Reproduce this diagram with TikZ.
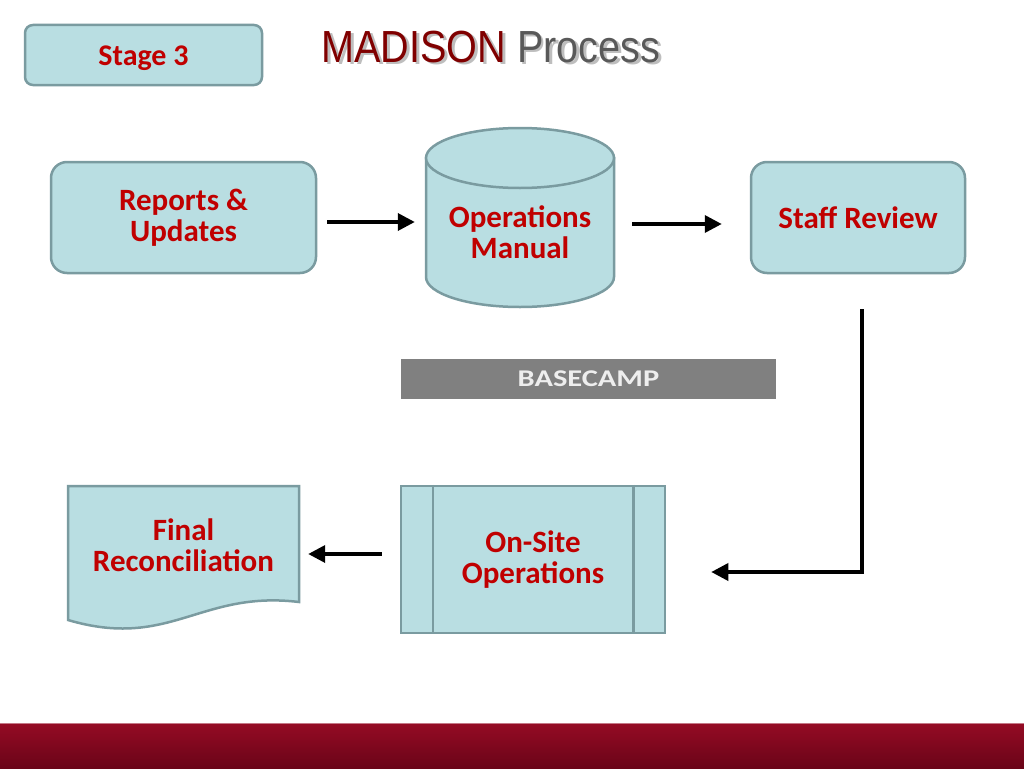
\documentclass[tikz,border=0pt]{standalone}
\usepackage{fontspec}
\usepackage{graphicx}
\setmainfont{Carlito}
\newfontfamily\titlefont{Liberation Sans}
\usetikzlibrary{positioning,arrows.meta}
\definecolor{boxfill}{RGB}{185,222,226}
\definecolor{boxline}{RGB}{122,155,160}
\definecolor{labelred}{RGB}{192,0,0}
\definecolor{titlered}{RGB}{128,0,0}
\definecolor{titlegray}{RGB}{89,89,89}
\definecolor{shadowgray}{RGB}{190,190,190}
\definecolor{basegray}{RGB}{128,128,128}
\definecolor{basetext}{RGB}{238,238,238}
\definecolor{barred}{RGB}{148,11,36}
\definecolor{bardark}{RGB}{106,4,24}
\definecolor{barline}{RGB}{196,120,134}
\newcommand{\titletext}[1]{\scalebox{0.88}[1]{#1}}

\begin{document}
\begin{tikzpicture}[x=1pt,y=-1pt,
    flowbox/.style={draw=boxline,fill=boxfill,line width=2.5pt,align=center,text=labelred,font=\fontsize{31}{30.5}\selectfont\bfseries},
    flowtext/.style={align=center,text=labelred,inner sep=0pt,font=\fontsize{31}{30.5}\selectfont\bfseries},
    arrow/.style={line width=3.5pt,-{Triangle[length=17pt,width=17pt]}}]
    \useasboundingbox[fill=white] (0,0) rectangle (1024,768);
        % header
        \node[flowbox,rounded corners=8pt,minimum width=237pt,minimum height=60pt,font=\fontsize{30}{30}\selectfont\bfseries] (stage) at (143.5,55) {\raisebox{-10pt}[0pt][0pt]{Stage 3}};
        \node[anchor=west,font=\titlefont\fontsize{45}{50}\selectfont] (title) at (318,48) {\makebox[0pt][l]{\hspace{2.5pt}\raisebox{-2.5pt}{\titletext{\color{shadowgray}MADISON Process}}}\titletext{\textcolor{titlered}{MADISON} \textcolor{titlegray}{Process}}};
        % top row
        \node[flowbox,rounded corners=16pt,minimum width=265pt,minimum height=111pt] (reports) at (183.5,217.5) {Reports \&\\Updates};
        \filldraw[draw=boxline,fill=boxfill,line width=2.5pt] (426,158) -- (426,277) arc[start angle=180,end angle=360,x radius=94pt,y radius=30pt] -- (614,158) -- cycle;
        \filldraw[draw=boxline,fill=boxfill,line width=2.5pt] (520,158) ellipse[x radius=94pt,y radius=30pt];
        \node[flowtext,minimum width=188pt] (opman) at (520,232) {Operations\\Manual};
        \node[flowbox,rounded corners=16pt,minimum width=214pt,minimum height=111pt] (staff) at (858,217.5) {Staff Review};
        \node[fill=basegray,text=basetext,minimum width=375pt,minimum height=40pt,inner sep=0pt,font=\fontsize{24}{26}\selectfont\bfseries] (basecamp) at (588.5,379) {\scalebox{1.27}[1]{BASECAMP}};
        % bottom row
        \node[flowbox,minimum width=264pt,minimum height=147pt] (onsite) at (533,559.5) {On-Site\\Operations};
        \draw[boxline,line width=2.5pt] ([xshift=33pt]onsite.north west) -- ([xshift=33pt]onsite.south west);
        \draw[boxline,line width=2.5pt] ([xshift=-33pt]onsite.north east) -- ([xshift=-33pt]onsite.south east);
        \filldraw[draw=boxline,fill=boxfill,line width=2.5pt] (68,486) -- (299,486) -- (299,602) .. controls (200,590) and (170,650) .. (68,620) -- cycle;
        \node[flowtext,minimum width=231pt] (final) at (183.5,545) {Final\\Reconciliation};
        % connectors
        \draw[arrow,shorten <=10pt,shorten >=11pt] ([yshift=-4.5pt]reports.east) -- ([yshift=-4.5pt]reports.east -| opman.west);
        \draw[arrow,shorten <=18pt,shorten >=28pt] ([yshift=-6.5pt]staff.west -| opman.east) -- ([yshift=-6.5pt]staff.west);
        \draw[arrow,shorten <=35pt,shorten >=45pt] ([xshift=4pt]staff.south) |- ([yshift=-12.5pt]onsite.east);
        \draw[arrow,shorten <=18pt,shorten >=9pt] ([yshift=5.5pt]onsite.west) -- ([yshift=5.5pt]onsite.west -| final.east);
        % footer bar
        \shade[top color=barred,middle color=barred,bottom color=bardark] (0,724) rectangle (1024,768);
        \draw[barline,line width=1.5pt] (0,723.5) -- (1024,723.5);
    \end{tikzpicture}
\end{document}
